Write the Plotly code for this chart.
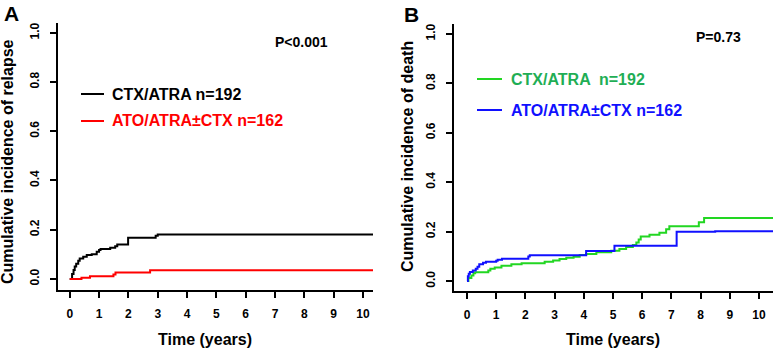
import plotly.graph_objects as go

# ---------------- data ----------------
relapse_ctx_t = [0, 0.08, 0.13, 0.17, 0.22, 0.29, 0.34, 0.46, 0.58, 0.75, 0.92, 1.0, 1.05, 1.38, 1.55, 1.62, 1.99, 2.93, 3.0, 10.4]
relapse_ctx_y = [0, 0.02, 0.036, 0.051, 0.062, 0.074, 0.083, 0.09, 0.097, 0.1, 0.11, 0.118, 0.122, 0.127, 0.133, 0.14, 0.167, 0.175, 0.181, 0.18]
relapse_ato_t = [0, 0.4, 0.69, 1.49, 1.56, 2.74, 10.4]
relapse_ato_y = [0, 0.005, 0.011, 0.018, 0.026, 0.035, 0.035]

death_ctx_t = [0, 0.05, 0.15, 0.22, 0.28, 0.73, 0.8, 0.95, 1.18, 1.52, 1.87, 2.66, 2.95, 3.17, 3.4, 3.65, 3.86, 4.08, 4.43, 4.94,
               5.22, 5.45, 5.68, 5.8, 5.88, 5.95, 6.25, 6.59, 6.82, 6.93, 7.94, 8.12, 10.6]
death_ctx_y = [0, 0.013, 0.023, 0.032, 0.036, 0.043, 0.05, 0.055, 0.062, 0.068, 0.072, 0.078, 0.083, 0.089, 0.094, 0.099, 0.106, 0.11, 0.117, 0.123,
               0.13, 0.138, 0.146, 0.156, 0.168, 0.18, 0.188, 0.196, 0.21, 0.222, 0.238, 0.255, 0.252]
death_ato_t = [0, 0.03, 0.06, 0.1, 0.2, 0.3, 0.36, 0.42, 0.55, 0.65, 1.0, 1.05, 1.2, 2.1, 2.15, 4.08, 5.05, 7.18, 8.5, 10.6]
death_ato_y = [0, 0.02, 0.03, 0.037, 0.043, 0.05, 0.058, 0.068, 0.074, 0.078, 0.082, 0.086, 0.09, 0.1, 0.105, 0.122, 0.143, 0.2, 0.202, 0.203]

x_ticks = list(range(0, 11))
y_ticks = [0.0, 0.2, 0.4, 0.6, 0.8, 1.0]

legend_a = ["CTX/ATRA n=192", "ATO/ATRA±CTX n=162"]
legend_b = ["CTX/ATRA  n=192", "ATO/ATRA±CTX n=162"]
p_a = "P<0.001"
p_b = "P=0.73"

# ---------------- layout helpers ----------------
W, H = 773, 348
FONT = "Liberation Sans, Arial, sans-serif"

def px(x):
    return x / W

def py(y):
    return 1 - y / H

BLACK = "#000000"
RED = "#ff0000"
GREEN_LINE = "#22d622"
GREEN_TEXT = "#1fae55"
BLUE = "#1010ff"

fig = go.Figure()
fig.add_trace(go.Scatter(x=relapse_ctx_t, y=relapse_ctx_y, mode="lines", line=dict(color=BLACK, width=2, shape="hv"),
                         xaxis="x", yaxis="y", showlegend=False))
fig.add_trace(go.Scatter(x=relapse_ato_t, y=relapse_ato_y, mode="lines", line=dict(color=RED, width=2, shape="hv"),
                         xaxis="x", yaxis="y", showlegend=False))
fig.add_trace(go.Scatter(x=death_ctx_t, y=death_ctx_y, mode="lines", line=dict(color=GREEN_LINE, width=2, shape="hv"),
                         xaxis="x2", yaxis="y2", showlegend=False))
fig.add_trace(go.Scatter(x=death_ato_t, y=death_ato_y, mode="lines", line=dict(color=BLUE, width=2, shape="hv"),
                         xaxis="x2", yaxis="y2", showlegend=False))

tickfont = dict(family=FONT, size=12, color="black", weight="bold")

def xaxis(domain, rng, anchor):
    return dict(domain=domain, range=rng, anchor=anchor, tickmode="array", tickvals=x_ticks,
                ticktext=[str(v) for v in x_ticks], showline=True, linecolor="black", linewidth=2,
                ticks="outside", ticklen=6, tickwidth=2, tickcolor="black", tickfont=tickfont,
                ticklabelstandoff=6, showgrid=False, zeroline=False, fixedrange=True)

def yaxis(domain, rng, anchor):
    return dict(domain=domain, range=rng, anchor=anchor, tickmode="array", tickvals=y_ticks,
                ticktext=["%.1f" % v for v in y_ticks], tickangle=-90, showline=True, linecolor="black",
                linewidth=2, ticks="outside", ticklen=6, tickwidth=2, tickcolor="black", tickfont=tickfont,
                ticklabelstandoff=6, showgrid=False, zeroline=False, fixedrange=True)

fig.update_layout(
    width=W, height=H, margin=dict(l=0, r=0, t=0, b=0),
    paper_bgcolor="white", plot_bgcolor="white",
    xaxis=xaxis([px(58), px(373)], [-0.4, 10.34], "y"),
    yaxis=yaxis([py(290), py(23)], [-0.045, 1.04], "x"),
    xaxis2=xaxis([px(454), px(773)], [-0.445, 10.48], "y2"),
    yaxis2=yaxis([py(291), py(24)], [-0.04, 1.04], "x2"),
)

ann = []
def text(x, y, s, size, color="black", angle=0, xanchor="center"):
    ann.append(dict(x=px(x), y=py(y), xref="paper", yref="paper", text=s, showarrow=False,
                    font=dict(family=FONT, size=size, color=color, weight="bold"),
                    textangle=angle, xanchor=xanchor, yanchor="middle"))

# panel letters
text(11, 13.5, "A", 21)
text(411, 14, "B", 21)
# axis titles
text(8, 162, "Cumulative incidence of relapse", 16, angle=-90)
text(408, 157, "Cumulative incidence of death", 16, angle=-90)
text(205, 339, "Time (years)", 16)
text(613, 339, "Time (years)", 16)
# p values
text(273, 42, p_a, 14, xanchor="left")
text(694, 37, p_b, 14, xanchor="left")
# legends
text(110, 94, legend_a[0], 16, color=BLACK, xanchor="left")
text(110, 121, legend_a[1], 16, color=RED, xanchor="left")
text(509, 80, legend_b[0], 16, color=GREEN_TEXT, xanchor="left")
text(509, 110, legend_b[1], 16, color=BLUE, xanchor="left")

shapes = [
    dict(type="line", xref="paper", yref="paper", x0=px(81), x1=px(104), y0=py(94), y1=py(94), line=dict(color=BLACK, width=2)),
    dict(type="line", xref="paper", yref="paper", x0=px(81), x1=px(104), y0=py(121), y1=py(121), line=dict(color=RED, width=2)),
    dict(type="line", xref="paper", yref="paper", x0=px(477), x1=px(502), y0=py(79), y1=py(79), line=dict(color=GREEN_LINE, width=2)),
    dict(type="line", xref="paper", yref="paper", x0=px(477), x1=px(502), y0=py(110), y1=py(110), line=dict(color=BLUE, width=2)),
]
fig.update_layout(annotations=ann, shapes=shapes)

fig.write_html("out.html", config={"displayModeBar": False},
               post_script="document.body.style.margin='0';document.body.style.overflow='hidden';")
